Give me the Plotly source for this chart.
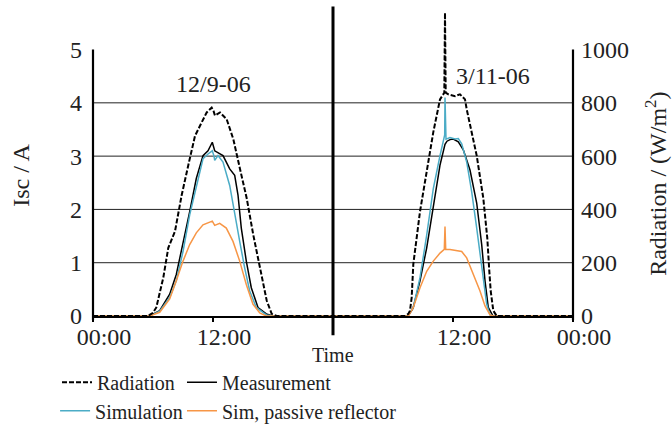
import plotly.graph_objects as go

# ---------------- data (hours on a 0-48 h axis: day 1 = 0-24, day 2 = 24-48) ----------------
RAD_H = [0, 5.5, 6.0, 6.33, 7.03, 7.53, 8.2, 8.87, 9.53, 10.2, 10.7, 11.37, 11.87, 12.05, 12.2, 12.7,
         13.37, 14.03, 14.7, 15.37, 16.03, 16.7, 17.37, 17.87, 18.37, 24,
         31.2, 31.53, 31.7, 31.87, 32.03, 32.7, 33.37, 34.03, 34.7, 35.13, 35.2, 35.27, 35.53, 36.2,
         36.7, 37.2, 37.37, 38.37, 39.03, 39.43, 39.63, 39.77, 40.03, 40.37, 48]
RAD_W = [0, 0, 12, 32, 144, 256, 318, 454, 566, 676, 714, 764, 782, 770, 752, 764,
         738, 664, 552, 442, 304, 180, 58, 8, 0, 0,
         0, 8, 20, 70, 194, 392, 540, 690, 813, 838, 1138, 838, 832, 825,
         832, 813, 776, 602, 442, 292, 169, 94, 20, 0, 0]

MEAS_H = [0, 5.67, 6.67, 7.67, 8.33, 9.0, 9.67, 10.33, 11.0, 11.5, 11.93, 12.17, 12.5, 13.0, 13.67,
          14.17, 14.5, 14.83, 15.33, 15.83, 16.5, 17.33, 18.0,
          31.5, 32.0, 32.7, 33.37, 34.03, 34.7, 35.2, 35.4, 35.7, 36.03, 36.53, 37.03, 37.7, 38.37,
          38.87, 39.2, 39.53, 40.0, 48]
MEAS_A = [0, 0, 0.10, 0.41, 0.78, 1.34, 1.96, 2.58, 3.01, 3.10, 3.26, 3.10, 3.07, 3.01, 2.76,
          2.64, 2.27, 1.65, 1.03, 0.53, 0.16, 0.04, 0,
          0, 0.14, 0.66, 1.28, 2.02, 2.83, 3.22, 3.28, 3.31, 3.32, 3.27, 3.12, 2.74, 2.12,
          1.34, 0.66, 0.16, 0, 0]

SIM_H = [0, 5.67, 6.67, 7.67, 8.33, 9.0, 9.67, 10.33, 11.0, 11.5, 11.93, 12.1, 12.17, 12.5, 13.0,
         13.67, 14.17, 14.67, 15.17, 15.67, 16.33, 17.33, 18.0,
         31.4, 32.03, 32.7, 33.37, 34.03, 34.7, 35.1, 35.17, 35.2, 35.23, 35.3, 35.7, 36.2, 36.53,
         36.87, 37.37, 37.87, 38.37, 38.87, 39.37, 39.7, 40.0, 48]
SIM_A = [0, 0, 0.09, 0.35, 0.66, 1.21, 1.90, 2.45, 2.95, 3.04, 3.10, 3.00, 2.92, 3.01, 2.89,
         2.45, 1.96, 1.40, 0.90, 0.47, 0.16, 0.02, 0,
         0, 0.16, 0.72, 1.52, 2.39, 3.01, 3.32, 3.40, 4.10, 3.40, 3.32, 3.35, 3.32, 3.33,
         3.23, 2.89, 2.33, 1.65, 0.90, 0.22, 0.02, 0, 0]

REFL_H = [0, 5.67, 6.67, 7.67, 8.33, 9.0, 9.67, 10.33, 11.0, 11.67, 11.93, 12.17, 12.67, 13.33, 14.0,
          14.67, 15.33, 16.0, 16.67, 17.33,
          31.53, 32.03, 32.7, 33.37, 34.03, 34.7, 35.13, 35.2, 35.27, 35.7, 36.87, 37.37, 38.03,
          38.7, 39.2, 39.7, 40.0, 48]
REFL_A = [0, 0, 0.07, 0.32, 0.66, 1.03, 1.34, 1.56, 1.71, 1.77, 1.78, 1.70, 1.74, 1.65, 1.40,
          1.03, 0.59, 0.22, 0.06, 0,
          0, 0.16, 0.53, 0.84, 1.03, 1.18, 1.25, 1.68, 1.25, 1.25, 1.21, 1.09, 0.78,
          0.47, 0.19, 0.02, 0, 0]

X_TICKS = [0, 12, 36, 48]
X_LABELS = ["00:00", "12:00", "12:00", "00:00"]
Y_TICKS = [0, 1, 2, 3, 4, 5]
Y2_TICKS = [0, 200, 400, 600, 800, 1000]
GRID_VALUES = [1, 2, 3, 4]
DAY_LABELS = ["12/9-06", "3/11-06"]
DAY_LABEL_X = [12, 40]
DAY_LABEL_Y = [4.36, 4.51]

# ---------------- styling ----------------
FONT = "Liberation Serif"
TXT = "#222222"
TEAL = "#4BACC6"
ORANGE = "#F79646"
Y_MAX = 5.836           # leaves room above 5 for the radiation spike
Y2_MAX = Y_MAX * 200

fig = go.Figure()
fig.add_trace(go.Scatter(x=RAD_H, y=RAD_W, name="Radiation", yaxis="y2", mode="lines",
                         line=dict(color="black", width=2, dash="5px,2px"), legend="legend",
                         showlegend=True))
fig.add_trace(go.Scatter(x=MEAS_H, y=MEAS_A, name="Measurement", mode="lines",
                         line=dict(color="black", width=1.5), legend="legend2", showlegend=True))
fig.add_trace(go.Scatter(x=SIM_H, y=SIM_A, name="Simulation", mode="lines",
                         line=dict(color=TEAL, width=1.5), legend="legend3", showlegend=True))
fig.add_trace(go.Scatter(x=REFL_H, y=REFL_A, name="Sim, passive reflector", mode="lines",
                         line=dict(color=ORANGE, width=1.5), legend="legend4", showlegend=True))

shapes = []
for g in GRID_VALUES:
    shapes.append(dict(type="line", xref="paper", yref="y", x0=0, x1=1, y0=g, y1=g,
                       line=dict(color="#222222", width=1), layer="below"))
y5 = 5 / Y_MAX
for xp in (0, 1):
    shapes.append(dict(type="line", xref="paper", yref="paper", x0=xp, x1=xp, y0=-0.013, y1=y5,
                       line=dict(color="black", width=2.2)))
shapes.append(dict(type="line", xref="paper", yref="paper", x0=0.5, x1=0.5, y0=-0.062, y1=0.995,
                   line=dict(color="black", width=3)))

annotations = []
for t, xv, yv in zip(DAY_LABELS, DAY_LABEL_X, DAY_LABEL_Y):
    annotations.append(dict(text=t, x=xv, y=yv, xref="x", yref="y", showarrow=False,
                            xanchor="center", yanchor="middle",
                            font=dict(family=FONT, size=24, color=TXT)))
annotations.append(dict(text="Isc / A", x=-0.15, y=0.451, xref="paper", yref="paper",
                        xanchor="center", yanchor="middle",
                        showarrow=False, textangle=-90, font=dict(family=FONT, size=24, color=TXT)))
annotations.append(dict(text="Radiation / (W/m<sup>2</sup>)", x=1.173, y=0.425, xref="paper",
                        yref="paper", showarrow=False, textangle=-90, xanchor="center",
                        yanchor="middle", font=dict(family=FONT, size=24, color=TXT)))
annotations.append(dict(text="Time", x=0.5, y=-0.124, xref="paper", yref="paper", showarrow=False,
                        xanchor="center", yanchor="middle",
                        font=dict(family=FONT, size=20, color=TXT)))


def leg(x, y):
    return dict(orientation="h", x=x, y=y, xanchor="left", yanchor="middle",
                font=dict(family=FONT, size=20, color=TXT), bgcolor="rgba(0,0,0,0)", itemwidth=30)


fig.update_layout(
    width=672, height=435,
    showlegend=True,
    margin=dict(l=93, r=99, t=5, b=116),
    paper_bgcolor="white", plot_bgcolor="white",
    font=dict(family=FONT, color=TXT),
    shapes=shapes, annotations=annotations,
    xaxis=dict(range=[0, 48], tickvals=X_TICKS, ticktext=X_LABELS, ticks="outside", ticklen=4,
               tickwidth=1.5, tickcolor="black", showline=True, linecolor="black", linewidth=2,
               showgrid=False, zeroline=False, ticklabelshift=11, ticklabelstandoff=-6,
               tickfont=dict(family=FONT, size=24, color=TXT)),
    yaxis=dict(range=[0, Y_MAX], tickvals=Y_TICKS, showgrid=False, zeroline=False, showline=False,
               ticks="", ticklabelstandoff=10, tickfont=dict(family=FONT, size=24, color=TXT)),
    yaxis2=dict(range=[0, Y2_MAX], tickvals=Y2_TICKS, overlaying="y", side="right", showgrid=False,
                zeroline=False, showline=False, ticks="", ticklabelstandoff=7,
                tickfont=dict(family=FONT, size=24, color=TXT)),
    legend=leg(-0.075, -0.213),
    legend2=leg(0.1854, -0.213),
    legend3=leg(-0.079, -0.305),
    legend4=leg(0.1854, -0.305),
)

fig.write_html("out.html", config=dict(displayModeBar=False),
               post_script="document.body.style.margin='0';")
